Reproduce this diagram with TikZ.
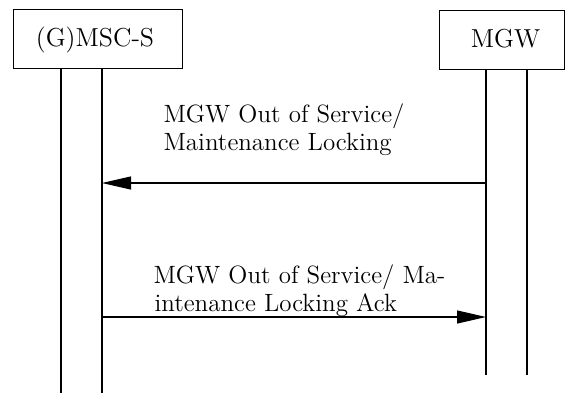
\documentclass[tikz,border=0pt]{standalone}
\usepackage{fontspec}
\newfontfamily\lmtw{lmroman12-regular.otf}
\usetikzlibrary{arrows.meta}
\begin{document}
\begin{tikzpicture}[x=1pt,y=-1pt,line width=1.1pt,
  entbox/.style={draw,line width=1.2pt,inner sep=0pt,anchor=north west},
  lbl/.style={inner sep=0pt,anchor=base west,font=\lmtw\fontsize{25pt}{28pt}\selectfont},
  ent/.style={inner sep=0pt,anchor=base,font=\lmtw\fontsize{26pt}{28pt}\selectfont},
  msg/.style={-{Triangle[length=29pt,width=13pt]}}]
\useasboundingbox (0,0) rectangle (565,392);
% entity boxes
\node[entbox,minimum width=169pt,minimum height=59pt] (mscbox) at (13,9) {};
\node[entbox,minimum width=125pt,minimum height=59pt] (mgwbox) at (439,10) {};
\node[ent] (msctxt) at (95,46) {(G)MSC-S};
\node[ent] (mgwtxt) at (505.5,47) {MGW};
% lifelines
\coordinate (la) at (61,68);   \coordinate (lab) at (61,395);
\coordinate (lb) at (102,68);  \coordinate (lbb) at (102,395);
\coordinate (ra) at (486,69);  \coordinate (rab) at (486,375);
\coordinate (rb) at (527,69);  \coordinate (rbb) at (527,375);
\draw (la) -- (lab);
\draw (lb) -- (lbb);
\draw (ra) -- (rab);
\draw (rb) -- (rbb);
% message 1
\coordinate (m1s) at (486,183);
\coordinate (m1e) at (102,183);
\draw[msg] (m1s) -- (m1e);
\node[lbl] (m1a) at (163,122) {MGW Out of Service/};
\node[lbl] (m1b) at (163,150) {Maintenance Locking};
% message 2
\coordinate (m2s) at (102,317);
\coordinate (m2e) at (486,317);
\draw[msg] (m2s) -- (m2e);
\node[lbl] (m2a) at (153,283) {MGW Out of Service/ Ma-};
\node[lbl] (m2b) at (154,311) {intenance Locking Ack};
\end{tikzpicture}
\end{document}
